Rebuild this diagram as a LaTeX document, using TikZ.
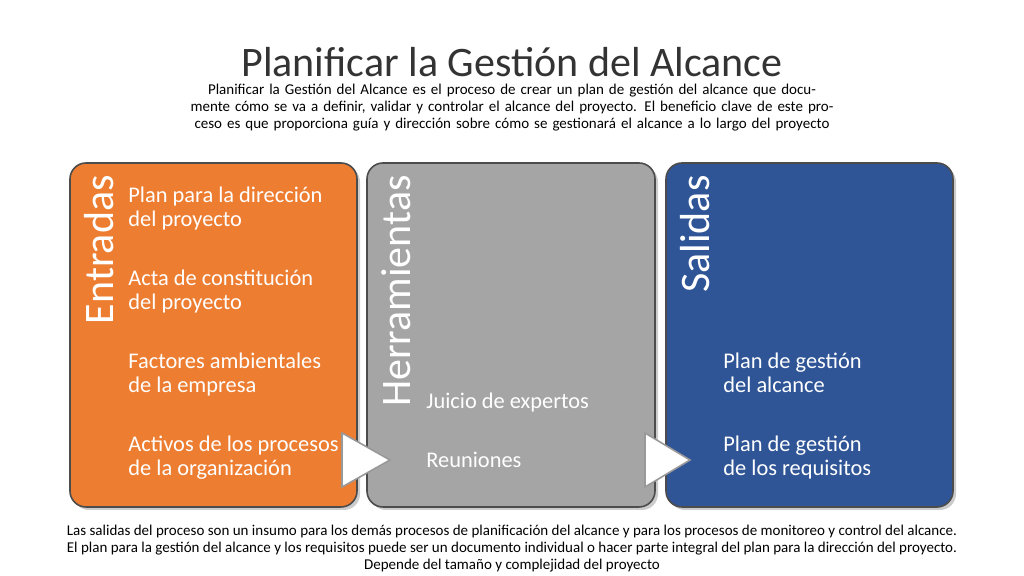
\documentclass[tikz,border=0pt]{standalone}
\usepackage{fontspec}
\setmainfont{Carlito}
\usetikzlibrary{shadows}
\definecolor{org}{HTML}{ED7D31}
\definecolor{gry}{HTML}{A5A5A5}
\definecolor{blu}{HTML}{2F5597}
\tikzset{
 panel/.style={rounded corners=8pt,draw=black!70,line width=0.8pt,drop shadow={shadow xshift=1.5pt,shadow yshift=-1.5pt,opacity=0.4}},
 vtitle/.style={rotate=90,anchor=north east,text=white,font=\fontsize{21}{24}\selectfont,inner sep=0pt},
 item/.style={anchor=north west,text=white,align=left,font=\fontsize{11.2}{12}\selectfont,inner sep=0pt},
 tri/.style={fill=white,draw=black!40,line width=0.8pt},
 small/.style={align=center,font=\fontsize{7.5}{8.5}\selectfont,inner sep=0pt}
}
\begin{document}
\begin{tikzpicture}[x=0.5pt,y=-0.5pt]
\useasboundingbox (0,0) rectangle (1024,576);
\node[font=\fontsize{21}{24}\selectfont,text=black!80] (title) at (512,62) {Planificar la Gestión del Alcance};
\node[small,text width=432pt] (sub) at (512,108) {\hyphenpenalty=10000\relax Planificar la Gestión del Alcance es el proceso de crear un plan de gestión del alcance que documente cómo se va a definir, validar y controlar el alcance del proyecto. El beneficio clave de este proceso es que proporciona guía y dirección sobre cómo se gestionará el alcance a lo largo del proyecto};
\path[panel,fill=org] (70,163) rectangle (357,507);
\path[panel,fill=gry] (367,163) rectangle (655,507);
\path[panel,fill=blu] (666,163) rectangle (953,507);
\node[vtitle] (e) at (84,175) {Entradas};
\node[vtitle] (h) at (381,175) {Herramientas};
\node[vtitle] (s) at (680,175) {Salidas};
\node[item] (e1) at (128,187) {Plan para la dirección\\del proyecto};
\node[item] (e2) at (128,270) {Acta de constitución\\del proyecto};
\node[item] (e3) at (128,353) {Factores ambientales\\de la empresa};
\node[item] (e4) at (128,436) {Activos de los procesos\\de la organización};
\node[item] (h1) at (426,393) {Juicio de expertos};
\node[item] (h2) at (426,452) {Reuniones};
\node[item] (s1) at (723,353) {Plan de gestión\\del alcance};
\node[item] (s2) at (723,436) {Plan de gestión\\de los requisitos};
\path[tri] (342,433) -- (390,460) -- (342,487) -- cycle;
\path[tri] (645,433) -- (690,460) -- (645,487) -- cycle;
\node[small] (foot) at (512,549) {Las salidas del proceso son un insumo para los demás procesos de planificación del alcance y para los procesos de monitoreo y control del alcance.\\El plan para la gestión del alcance y los requisitos puede ser un documento individual o hacer parte integral del plan para la dirección del proyecto.\\Depende del tamaño y complejidad del proyecto};
\end{tikzpicture}
\end{document}
